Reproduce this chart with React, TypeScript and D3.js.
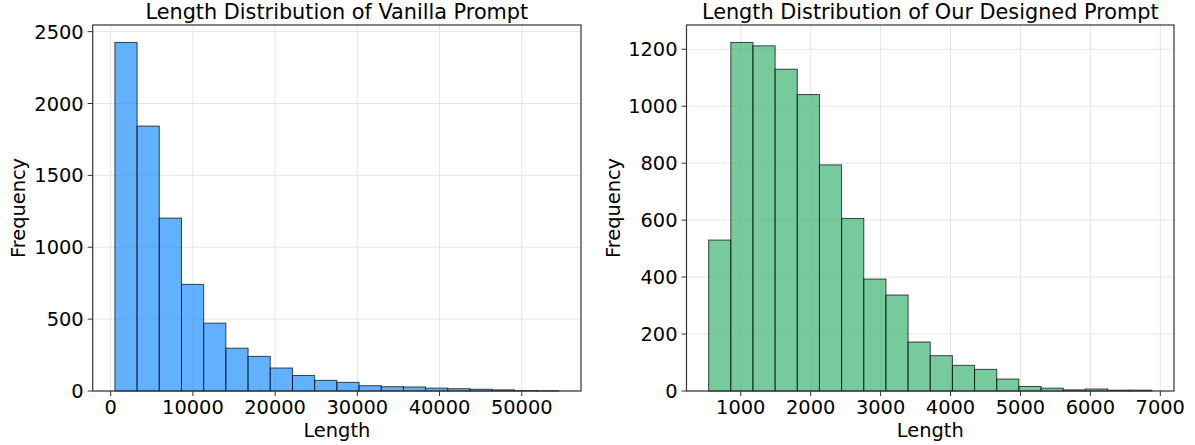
import React, { useEffect, useRef } from 'react';
import * as d3 from 'd3';

// histogram counts (20 equal-width bins each)
const vanillaCounts = [2425, 1843, 1203, 742, 472, 298, 241, 160, 108, 74, 60, 37, 30, 28, 20, 16, 12, 8, 3, 2];
const vanillaBinStart = 510;
const vanillaBinEnd = 54510;
const vanillaTicksX = [0, 10000, 20000, 30000, 40000, 50000];
const vanillaTicksY = [0, 500, 1000, 1500, 2000, 2500];

const designedCounts = [530, 1224, 1212, 1130, 1041, 794, 606, 393, 337, 172, 124, 90, 76, 42, 16, 10, 4, 7, 3, 3];
const designedBinStart = 541;
const designedBinEnd = 6879;
const designedTicksX = [1000, 2000, 3000, 4000, 5000, 6000, 7000];
const designedTicksY = [0, 200, 400, 600, 800, 1000, 1200];

const titles = ['Length Distribution of Vanilla Prompt', 'Length Distribution of Our Designed Prompt'];

const W = 1195;
const H = 445;
const FONT = 'DejaVu Sans, sans-serif';

interface Panel {
  counts: number[];
  start: number;
  end: number;
  ticksX: number[];
  ticksY: number[];
  title: string;
  fill: string;
  left: number;
  right: number;
  ylabelX: number;
}

const App: React.FC = () => {
  const svgRef = useRef<SVGSVGElement>(null);

  useEffect(() => {
    if (!svgRef.current) return;
    const svg = d3.select(svgRef.current);
    svg.selectAll('*').remove();

    const top = 25;
    const bottom = 391;

    const panels: Panel[] = [
      {
        counts: vanillaCounts, start: vanillaBinStart, end: vanillaBinEnd,
        ticksX: vanillaTicksX, ticksY: vanillaTicksY, title: titles[0],
        fill: 'rgba(30,144,255,0.7)', left: 92.7, right: 581, ylabelX: 18,
      },
      {
        counts: designedCounts, start: designedBinStart, end: designedBinEnd,
        ticksX: designedTicksX, ticksY: designedTicksY, title: titles[1],
        fill: 'rgba(60,179,113,0.7)', left: 686.5, right: 1174, ylabelX: 613,
      },
    ];

    panels.forEach(p => {
      const n = p.counts.length;
      const bw = (p.end - p.start) / n;
      const edges = d3.range(n + 1).map(i => p.start + i * bw);
      const pad = (p.end - p.start) * 0.05;
      const x = d3.scaleLinear().domain([p.start - pad, p.end + pad]).range([p.left, p.right]);
      const y = d3.scaleLinear().domain([0, (d3.max(p.counts) as number) * 1.05]).range([bottom, top]);

      const g = svg.append('g');

      // grid
      g.selectAll('.gx').data(p.ticksX).enter().append('line')
        .attr('x1', d => x(d)).attr('x2', d => x(d))
        .attr('y1', top).attr('y2', bottom)
        .attr('stroke', '#e6e6e6').attr('stroke-width', 1);
      g.selectAll('.gy').data(p.ticksY).enter().append('line')
        .attr('x1', p.left).attr('x2', p.right)
        .attr('y1', d => y(d)).attr('y2', d => y(d))
        .attr('stroke', '#e6e6e6').attr('stroke-width', 1);

      // bars
      g.selectAll('.bar').data(p.counts).enter().append('rect')
        .attr('x', (_, i) => x(edges[i]))
        .attr('width', (_, i) => x(edges[i + 1]) - x(edges[i]))
        .attr('y', d => y(d))
        .attr('height', d => bottom - y(d))
        .attr('fill', p.fill)
        .attr('stroke', 'rgba(0,0,0,0.7)')
        .attr('stroke-width', 1);

      // frame
      g.append('rect')
        .attr('x', p.left).attr('y', top)
        .attr('width', p.right - p.left).attr('height', bottom - top)
        .attr('fill', 'none').attr('stroke', '#333').attr('stroke-width', 1.2);

      // x ticks
      g.selectAll('.tx').data(p.ticksX).enter().append('line')
        .attr('x1', d => x(d)).attr('x2', d => x(d))
        .attr('y1', bottom).attr('y2', bottom + 5)
        .attr('stroke', '#333').attr('stroke-width', 1);
      g.selectAll('.lx').data(p.ticksX).enter().append('text')
        .attr('x', d => x(d)).attr('y', 414)
        .attr('text-anchor', 'middle')
        .style('font-family', FONT).style('font-size', '19.4px').style('fill', '#000')
        .text(d => String(d));

      // y ticks
      g.selectAll('.ty').data(p.ticksY).enter().append('line')
        .attr('x1', p.left - 5).attr('x2', p.left)
        .attr('y1', d => y(d)).attr('y2', d => y(d))
        .attr('stroke', '#333').attr('stroke-width', 1);
      g.selectAll('.ly').data(p.ticksY).enter().append('text')
        .attr('x', p.left - 9).attr('y', d => y(d))
        .attr('dy', '0.36em')
        .attr('text-anchor', 'end')
        .style('font-family', FONT).style('font-size', '19.4px').style('fill', '#000')
        .text(d => String(d));

      // labels
      g.append('text')
        .attr('x', (p.left + p.right) / 2).attr('y', 437)
        .attr('text-anchor', 'middle')
        .style('font-family', FONT).style('font-size', '19.4px')
        .text('Length');
      g.append('text')
        .attr('transform', `translate(${p.ylabelX + 7},${(top + bottom) / 2}) rotate(-90)`)
        .attr('text-anchor', 'middle')
        .style('font-family', FONT).style('font-size', '19.4px')
        .text('Frequency');
      g.append('text')
        .attr('x', (p.left + p.right) / 2).attr('y', 19)
        .attr('text-anchor', 'middle')
        .style('font-family', FONT).style('font-size', '20.8px')
        .text(p.title);
    });
  }, []);

  return (
    <svg
      ref={svgRef}
      width={W}
      height={H}
      style={{ position: 'absolute', left: 0, top: 0, background: '#fff' }}
    />
  );
};

export default App;
